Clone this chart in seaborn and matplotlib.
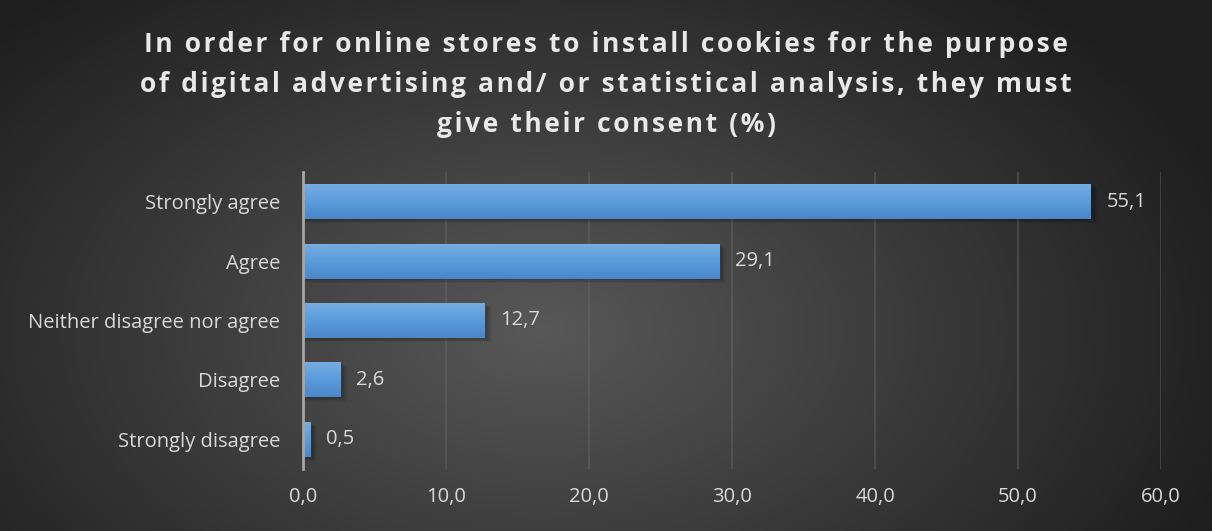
import numpy as np
import pandas as pd
import matplotlib
matplotlib.use("Agg")
import matplotlib.pyplot as plt
from matplotlib.colors import LinearSegmentedColormap
from matplotlib.patches import Rectangle
import seaborn as sns

categories = ["Strongly agree", "Agree", "Neither disagree nor agree", "Disagree", "Strongly disagree"]
values = [55.1, 29.1, 12.7, 2.6, 0.5]
x_ticks = [0, 10, 20, 30, 40, 50, 60]
title_lines = ["In order for online stores to install cookies for the purpose",
               "of digital advertising and/ or statistical analysis, they must",
               "give their consent (%)"]

sns.set_theme(style="white")
plt.rcParams["font.family"] = ["Open Sans", "DejaVu Sans"]

W, H, DPI = 1212, 531, 100
fig = plt.figure(figsize=(W / DPI, H / DPI), dpi=DPI)

# radial background shading
bg = fig.add_axes([0, 0, 1, 1], zorder=-10)
yy, xx = np.mgrid[0:H, 0:W]
r = np.sqrt(((xx - 540) / 900.0) ** 2 + ((yy - 330) / 560.0) ** 2)
shade = np.clip(0.345 - 0.28 * r, 0.12, 0.36)
bg.imshow(np.dstack([shade] * 3), extent=[0, 1, 0, 1], aspect="auto", origin="upper")
bg.set_axis_off()

ax = fig.add_axes([303 / W, 62 / H, (1161 - 303) / W, (359 - 62) / H])
ax.patch.set_alpha(0)

df = pd.DataFrame({"category": categories, "value": values})
sns.barplot(data=df, x="value", y="category", orient="h", width=0.59,
            color="#5b9bd5", saturation=1, ax=ax, zorder=3,
            edgecolor="none", linewidth=0)

bar_cmap = LinearSegmentedColormap.from_list("bar", ["#78aee0", "#5a9cdc", "#4a87c8"])
grad = np.linspace(0, 1, 64).reshape(-1, 1)
for p in ax.patches:
    x0, y0 = p.get_x(), p.get_y()
    w, h = p.get_width(), p.get_height()
    # soft drop shadow
    for k, a in enumerate([0.10, 0.08, 0.06]):
        ax.add_patch(Rectangle((x0, y0 + 0.03 + 0.02 * k), w + 0.25 + 0.12 * k, h,
                               facecolor="black", alpha=a, edgecolor="none", zorder=2))
    im = ax.imshow(grad, cmap=bar_cmap, aspect="auto", zorder=4,
                   extent=[x0, x0 + w, y0 + h, y0], interpolation="bilinear")
    im.set_clip_path(p)
    ax.text(x0 + w + 1.1, y0 + h / 2, f"{w:.1f}".replace(".", ","),
            va="center", ha="left", color="#d9d9d9", fontsize=14.5, zorder=5)

ax.set_xlim(0, 60)
ax.set_ylim(len(categories) - 0.5, -0.5)
ax.set_xticks(x_ticks)
ax.set_xticklabels([f"{t:.1f}".replace(".", ",") for t in x_ticks])
ax.xaxis.grid(True, color="#6a6a6a", linewidth=1.2, alpha=0.5, zorder=0)
ax.set_axisbelow(True)
for s in ["top", "right", "bottom"]:
    ax.spines[s].set_visible(False)
ax.spines["left"].set_color("#a6a6a6")
ax.spines["left"].set_linewidth(2)
ax.spines["left"].set_zorder(6)
ax.tick_params(axis="both", length=0, colors="#d9d9d9", labelsize=14.5)
ax.tick_params(axis="x", pad=13)
ax.tick_params(axis="y", pad=16.5)
ax.set_xlabel("")
ax.set_ylabel("")

# title with widened letter spacing
spaced = "\n".join("\u200a".join(line) for line in title_lines)
fig.text(0.5, 0.941, spaced, ha="center", va="top", color="#e8e8e8",
         fontsize=19, fontweight="bold", linespacing=1.62,
         family=["Open Sans", "DejaVu Sans"])

fig.savefig("out.png", dpi=DPI)
